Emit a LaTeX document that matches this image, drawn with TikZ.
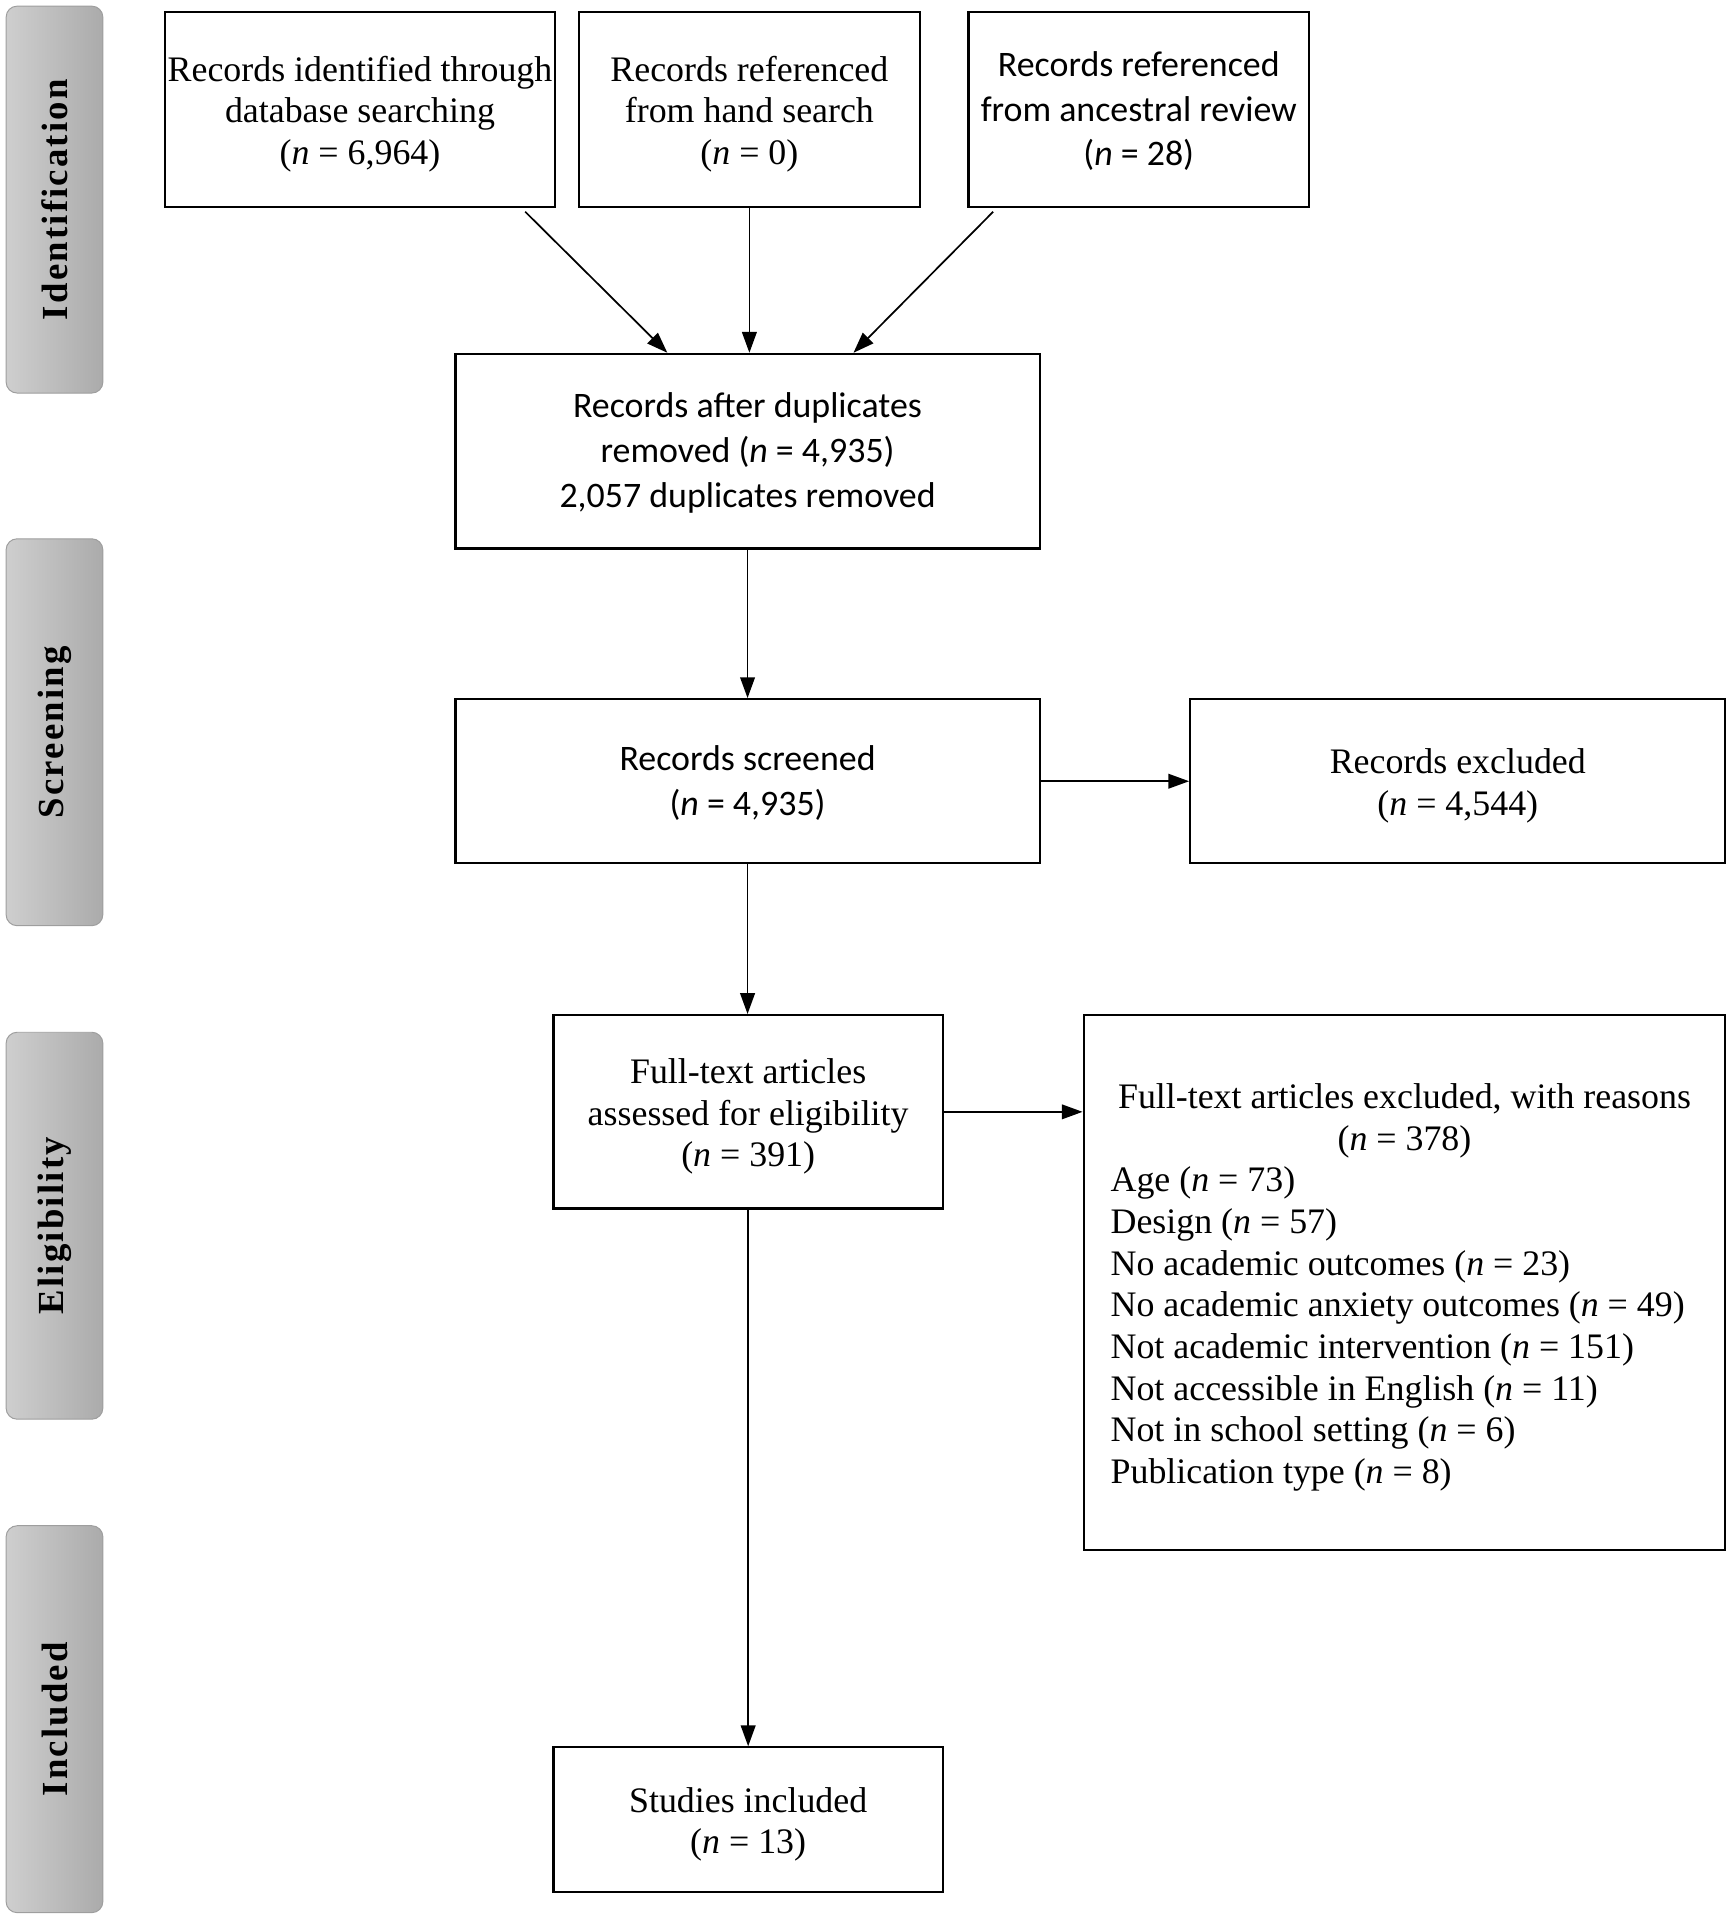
\documentclass[tikz,border=0pt]{standalone}
\usepackage{fontspec}
\setmainfont{Liberation Serif}
\newfontfamily\calfont{Carlito}
\newfontfamily\sidefont[LetterSpace=6]{Liberation Serif}
\usetikzlibrary{arrows.meta,calc}
\newcommand{\tmfont}{\fontsize{29.3}{34}\selectfont}
\newcommand{\clfont}{\calfont\fontsize{29.3}{36.5}\selectfont}
\newcommand{\tmup}{\rule{0pt}{28pt}}
\newcommand{\clup}{\rule{0pt}{23pt}}
\begin{document}
\begin{tikzpicture}[x=1pt,y=-1pt,
  box/.style={draw, line width=1.8pt, inner sep=0pt, align=center, font=\tmfont},
  cal/.style={font=\clfont},
  arr/.style={line width=1.4pt, -{Triangle[length=17pt,width=12pt]}},
  sidebar/.style={rounded corners=9pt, draw=black!38, line width=0.8pt,
    left color=black!19, right color=black!33,
    minimum width=79pt, minimum height=316pt, inner sep=0pt},
  sidetext/.style={rotate=90, font=\sidefont\bfseries\fontsize{30}{36}\selectfont}
]
\useasboundingbox (0,0) rectangle (1414,1568);

% phase bars
\node[sidebar] (idbar) at (44.5,163) {};
\node[sidetext] (idtxt) at (idbar) {Identification};
\node[sidebar] (scbar) at (44.5,598) {};
\node[sidetext] (sctxt) at (scbar) {Screening};
\node[sidebar] (elbar) at (44.5,1001) {};
\node[sidetext] (eltxt) at (elbar) {Eligibility};
\node[sidebar] (inbar) at (44.5,1404) {};
\node[sidetext] (intxt) at (inbar) {Included};

% boxes
\node[box, minimum width=318pt, minimum height=159pt] (b1) at (294,89.5)
  {\tmup Records identified through\\database searching\\(\textit{n} = 6,964)};
\node[box, minimum width=278pt, minimum height=159pt] (b2) at (612,89.5)
  {\tmup Records referenced\\from hand search\\(\textit{n} = 0)};
\node[box, cal, minimum width=278pt, minimum height=159pt] (b3) at (930,89.5)
  {\clup Records referenced\\from ancestral review\\(\textit{n} = 28)};
\node[box, cal, minimum width=477pt, minimum height=159pt] (b4) at (610.5,368.5)
  {\clup Records after duplicates\\removed (\textit{n} = 4,935)\\2,057 duplicates removed};
\node[box, cal, minimum width=477pt, minimum height=134pt] (b5) at (610.5,638)
  {\clup Records screened\\(\textit{n} = 4,935)};
\node[box, minimum width=437pt, minimum height=134pt] (b6) at (1190.5,638)
  {\tmup Records excluded\\(\textit{n} = 4,544)};
\node[box, minimum width=318pt, minimum height=158pt] (b7) at (611,908)
  {\tmup Full-text articles\\assessed for eligibility\\(\textit{n} = 391)};
\node[box, align=left, minimum width=524pt, minimum height=437pt] (b8) at (1147,1047.5)
  {\makebox[480pt][c]{\tmup Full-text articles excluded, with reasons}\\
   \makebox[480pt][c]{(\textit{n} = 378)}\\
   Age (\textit{n} = 73)\\
   Design (\textit{n} = 57)\\
   No academic outcomes (\textit{n} = 23)\\
   No academic anxiety outcomes (\textit{n} = 49)\\
   Not academic intervention (\textit{n} = 151)\\
   Not accessible in English (\textit{n} = 11)\\
   Not in school setting (\textit{n} = 6)\\
   Publication type (\textit{n} = 8)};
\node[box, minimum width=318pt, minimum height=118pt] (b9) at (611,1486)
  {\tmup Studies included\\(\textit{n} = 13)};

% connectors
\draw[arr] ($(b1.south east)+(-25,3)$) -- ($(b4.north)+(-65.5,0)$);
\draw[arr] (b2.south) -- (b2.south |- b4.north);
\draw[arr] ($(b3.south west)+(21,3)$) -- ($(b4.north)+(86.5,0)$);
\draw[arr] (b4.south) -- (b5.north);
\draw[arr] (b5.east) -- (b6.west);
\draw[arr] (b5.south) -- (b5.south |- b7.north);
\draw[arr] (b7.east) -- (b7.east -| b8.west);
\draw[arr] (b7.south) -- (b9.north);
\end{tikzpicture}
\end{document}
